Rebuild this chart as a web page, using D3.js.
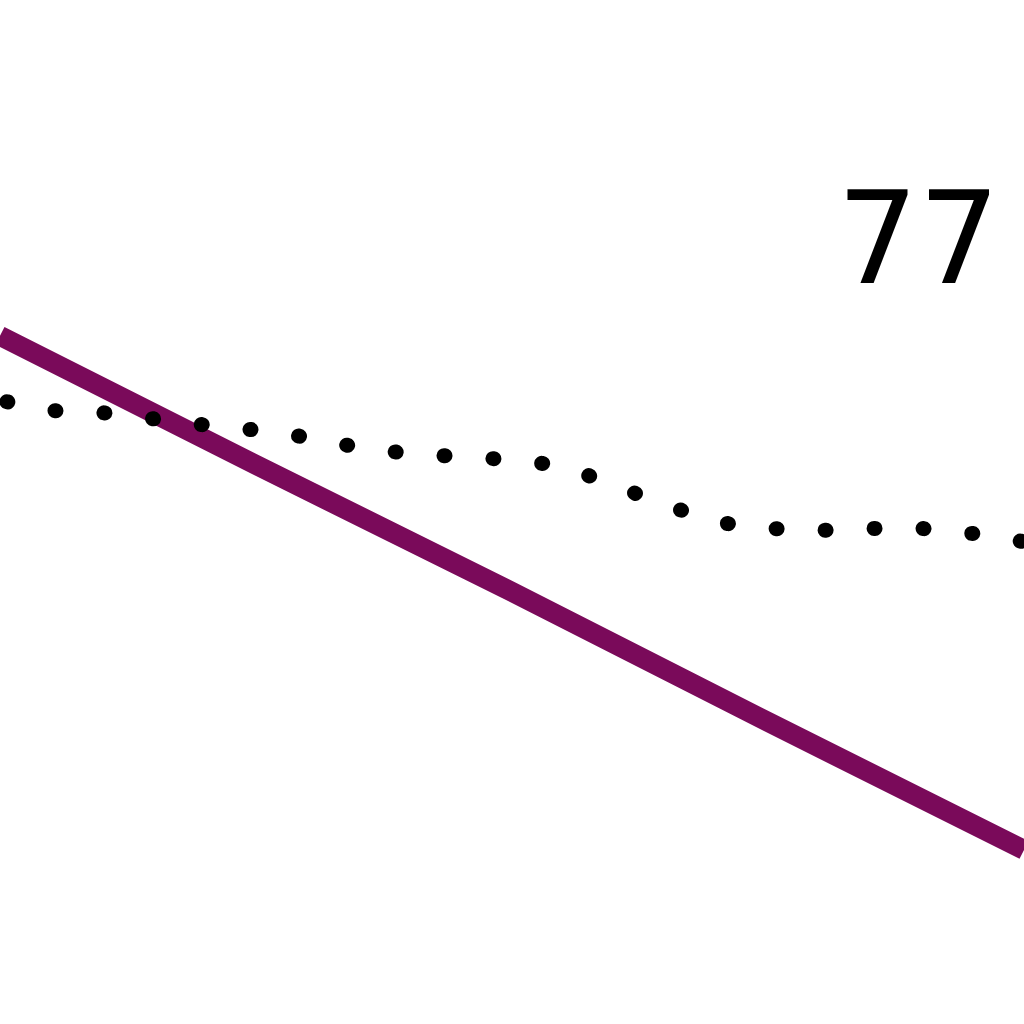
<!DOCTYPE html>
<html>
<head>
<meta charset="utf-8">
<script src="https://cdn.jsdelivr.net/npm/d3@7"></script>
<style>
  html, body { margin: 0; padding: 0; background: #fff; }
  svg { display: block; }
</style>
</head>
<body>
<svg id="chart"></svg>
<script>
// x positions (index steps) shared by the dotted series
const steps = d3.range(0, 21);

// dotted black series
const dottedValues = [60.9, 59.9, 59.7, 59.1, 58.5, 58.0, 57.3, 56.3, 55.7, 55.4, 55.1,
                      54.5, 52.6, 50.7, 49.0, 48.4, 48.2, 48.4, 48.4, 47.9, 47.1];

// solid purple series
const solidSteps = [0, 5, 10, 15, 20];
const solidValues = [67.2, 54.6, 42.2, 29.5, 17.0];

// label shown top right
const labelText = '77';
const labelStep = 16.35;
const labelValue = 72.4;

const width = 1024;
const height = 1024;

const svg = d3.select('#chart')
  .attr('width', width)
  .attr('height', height)
  .attr('viewBox', [0, 0, width, height]);

const xScale = d3.scaleLinear().domain([0, 20]).range([0, width]);
const yScale = d3.scaleLinear().domain([0, 100]).range([height, 0]);

const line = d3.line()
  .x(d => xScale(d[0]))
  .y(d => yScale(d[1]));

// purple line
svg.append('path')
  .datum(solidSteps.map((s, i) => [s, solidValues[i]]))
  .attr('fill', 'none')
  .attr('stroke', '#7a0a5a')
  .attr('stroke-width', 20)
  .attr('d', line);

// dotted line, round dots
svg.append('path')
  .datum(steps.map((s, i) => [s, dottedValues[i]]))
  .attr('fill', 'none')
  .attr('stroke', '#000')
  .attr('stroke-width', 15)
  .attr('stroke-linecap', 'round')
  .attr('stroke-dasharray', '1 48')
  .attr('stroke-dashoffset', -7)
  .attr('d', line);

svg.append('text')
  .attr('x', xScale(labelStep))
  .attr('y', yScale(labelValue))
  .attr('font-family', 'DejaVu Sans')
  .attr('font-size', 128)
  .attr('fill', '#000')
  .text(labelText);
</script>
</body>
</html>
